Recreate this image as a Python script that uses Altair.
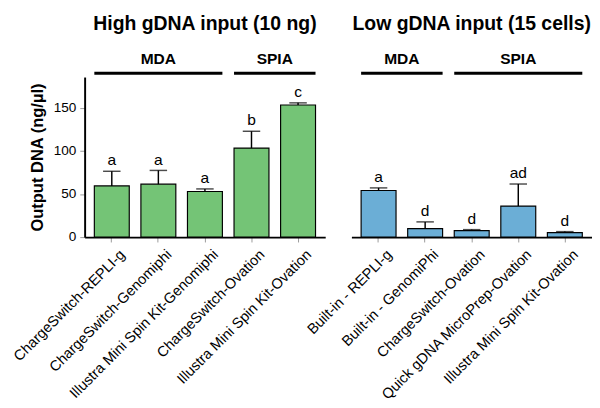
import altair as alt
import pandas as pd

# ---- data ----
high_methods = ["ChargeSwitch-REPLI-g", "ChargeSwitch-Genomiphi",
                "Illustra Mini Spin Kit-Genomiphi", "ChargeSwitch-Ovation",
                "Illustra Mini Spin Kit-Ovation"]
high_values = [59.5, 61.5, 53.0, 103.5, 153.5]
high_errors = [17.0, 16.0, 3.0, 19.5, 2.5]
high_letters = ["a", "a", "a", "b", "c"]
high_groups = ["MDA", "MDA", "MDA", "SPIA", "SPIA"]

low_methods = ["Built-in - REPLI-g", "Built-in - GenomiPhi",
               "ChargeSwitch-Ovation", "Quick gDNA MicroPrep-Ovation",
               "Illustra Mini Spin Kit-Ovation"]
low_values = [54.2, 9.8, 7.5, 36.1, 5.3]
low_errors = [3.0, 7.9, 1.2, 25.6, 1.1]
low_letters = ["a", "d", "d", "ad", "d"]
low_groups = ["MDA", "MDA", "SPIA", "SPIA", "SPIA"]

y_ticks = [0, 50, 100, 150]
Y_MAX = 186

FONT = "Liberation Sans"
PAD_IN = 0.25
PAD_OUT = 0.2083


def panel(methods, values, errors, letters, groups, color, title, show_y):
    df = pd.DataFrame({
        "method": methods,
        "value": values,
        "top": [v + e for v, e in zip(values, errors)],
        "letter": letters,
        "group": groups,
    })
    xscale = alt.Scale(domain=methods, paddingInner=PAD_IN, paddingOuter=PAD_OUT)
    yscale = alt.Scale(domain=[0, Y_MAX], nice=False, zero=True)
    xaxis = alt.Axis(title=None, labelAngle=-45, labelFontSize=15, labelPadding=5,
                     labelOffset=6, labelLimit=0,
                     labelColor="black", domainColor="black", domainWidth=2,
                     tickColor="#999999", tickSize=5, tickWidth=1)
    if show_y:
        yaxis = alt.Axis(values=y_ticks, title="Output DNA (ng/µl)", titleFontSize=17,
                         titleFontWeight="bold", titleColor="black", titlePadding=7,
                         labelFontSize=14, labelColor="black", labelPadding=4,
                         domainColor="black", domainWidth=2, tickColor="#999999",
                         tickSize=5, tickWidth=1, grid=False)
    else:
        yaxis = None

    xenc = alt.X("method:N", sort=methods, scale=xscale, axis=xaxis)
    base = alt.Chart(df)
    bars = base.mark_bar(color=color, stroke="black", strokeWidth=1.2).encode(
        x=xenc, y=alt.Y("value:Q", scale=yscale, axis=yaxis))
    err = base.mark_rule(color="black", strokeWidth=1.5).encode(
        x=alt.X("method:N", sort=methods, scale=xscale),
        y=alt.Y("value:Q", scale=yscale), y2="top:Q")
    caps = base.mark_tick(color="black", thickness=1.5, size=18).encode(
        x=alt.X("method:N", sort=methods, scale=xscale),
        y=alt.Y("top:Q", scale=yscale))
    txt = base.mark_text(fontSize=16, dy=-6, baseline="alphabetic", color="black").encode(
        x=alt.X("method:N", sort=methods, scale=xscale),
        y=alt.Y("top:Q", scale=yscale), text="letter:N")

    layers = [bars, err, caps, txt]
    seen = []
    for g in groups:
        if g not in seen:
            seen.append(g)
    for g in seen:
        members = [m for m, gg in zip(methods, groups) if gg == g]
        n = len(members)
        anchor = members[(n - 1) // 2]
        odd = n % 2 == 1
        hdf = pd.DataFrame({"start": [members[0]], "end": [members[-1]],
                            "anchor": [anchor], "group": [g]})
        rule = alt.Chart(hdf).mark_rule(strokeWidth=3, color="black").encode(
            x=alt.X("start:N", sort=methods, scale=xscale, bandPosition=0),
            x2=alt.X2("end:N", bandPosition=1),
            y=alt.value(-4))
        label = alt.Chart(hdf).mark_text(fontSize=16, fontWeight="bold",
                                         baseline="alphabetic", color="black",
                                         dx=0 if odd else 6).encode(
            x=alt.X("anchor:N", sort=methods, scale=xscale,
                    bandPosition=0.5 if odd else 1),
            y=alt.value(-13), text="group:N")
        layers += [rule, label]

    return alt.layer(*layers).properties(
        width=248, height=165,
        title=alt.TitleParams(title, fontSize=20, fontWeight="bold", color="black",
                              anchor="middle", frame="group", offset=19))


left = panel(high_methods, high_values, high_errors, high_letters, high_groups,
             "#74c476", "High gDNA input (10 ng)", True)
right = panel(low_methods, low_values, low_errors, low_letters, low_groups,
              "#6baed6", "Low gDNA input (15 cells)", False)

chart = alt.hconcat(left, right, spacing=27, bounds="flush").properties(
    padding={"left": 2, "top": 0, "right": 0, "bottom": 0}
).configure(font=FONT).configure_view(stroke=None)

chart.save("out.html", embed_options={"renderer": "svg", "actions": False})
